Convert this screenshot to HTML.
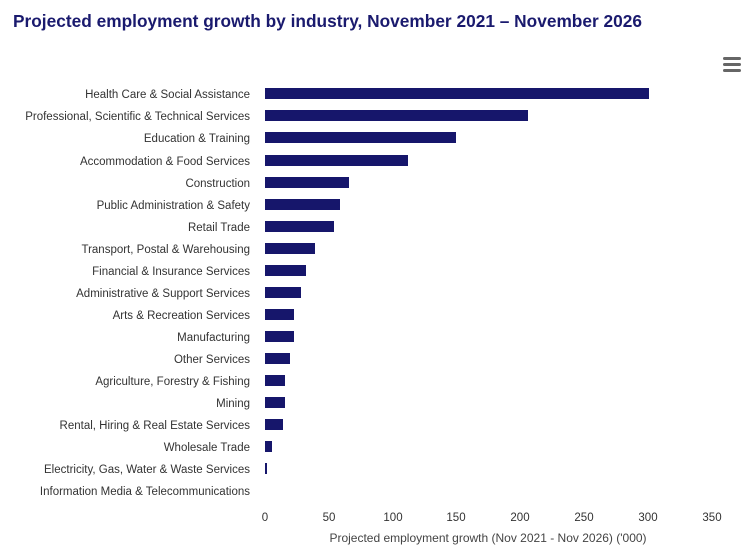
<!DOCTYPE html>
<html><head><meta charset="utf-8"><style>
html,body{margin:0;padding:0;background:#fff;width:750px;height:556px;overflow:hidden}
text{font-family:"Liberation Sans",Arial,sans-serif}
</style></head><body>
<svg width="750" height="556" xmlns="http://www.w3.org/2000/svg">
<text x="13" y="27" font-size="17.3" font-weight="bold" fill="#1a1a6e" textLength="629">Projected employment growth by industry, November 2021 – November 2026</text>
<g fill="#666"><rect x="723" y="57" width="18" height="3" rx="1.5"/><rect x="723" y="63" width="18" height="3" rx="1.5"/><rect x="723" y="69" width="18" height="3" rx="1.5"/></g>
<g font-size="11.5" fill="#333" text-anchor="end">
<text x="250" y="98">Health Care &amp; Social Assistance</text>
<text x="250" y="120">Professional, Scientific &amp; Technical Services</text>
<text x="250" y="142">Education &amp; Training</text>
<text x="250" y="165">Accommodation &amp; Food Services</text>
<text x="250" y="187">Construction</text>
<text x="250" y="209">Public Administration &amp; Safety</text>
<text x="250" y="231">Retail Trade</text>
<text x="250" y="253">Transport, Postal &amp; Warehousing</text>
<text x="250" y="275">Financial &amp; Insurance Services</text>
<text x="250" y="297">Administrative &amp; Support Services</text>
<text x="250" y="319">Arts &amp; Recreation Services</text>
<text x="250" y="341">Manufacturing</text>
<text x="250" y="363">Other Services</text>
<text x="250" y="385">Agriculture, Forestry &amp; Fishing</text>
<text x="250" y="407">Mining</text>
<text x="250" y="429">Rental, Hiring &amp; Real Estate Services</text>
<text x="250" y="451">Wholesale Trade</text>
<text x="250" y="473">Electricity, Gas, Water &amp; Waste Services</text>
<text x="250" y="495">Information Media &amp; Telecommunications</text>
</g>
<g fill="#16166b">
<rect x="265" y="88" width="384" height="11"/>
<rect x="265" y="110" width="263" height="11"/>
<rect x="265" y="132" width="191" height="11"/>
<rect x="265" y="155" width="143" height="11"/>
<rect x="265" y="177" width="84" height="11"/>
<rect x="265" y="199" width="75" height="11"/>
<rect x="265" y="221" width="69" height="11"/>
<rect x="265" y="243" width="50" height="11"/>
<rect x="265" y="265" width="41" height="11"/>
<rect x="265" y="287" width="36" height="11"/>
<rect x="265" y="309" width="29" height="11"/>
<rect x="265" y="331" width="29" height="11"/>
<rect x="265" y="353" width="25" height="11"/>
<rect x="265" y="375" width="20" height="11"/>
<rect x="265" y="397" width="20" height="11"/>
<rect x="265" y="419" width="18" height="11"/>
<rect x="265" y="441" width="7" height="11"/>
<rect x="265" y="463" width="2" height="11"/>
</g>
<g font-size="11.5" fill="#333" text-anchor="middle">
<text x="265" y="521">0</text><text x="329" y="521">50</text><text x="393" y="521">100</text><text x="456" y="521">150</text><text x="520" y="521">200</text><text x="584" y="521">250</text><text x="648" y="521">300</text><text x="712" y="521">350</text>
<text x="488" y="542" font-size="12" fill="#444">Projected employment growth (Nov 2021 - Nov 2026) ('000)</text>
</g>
</svg>
</body></html>
